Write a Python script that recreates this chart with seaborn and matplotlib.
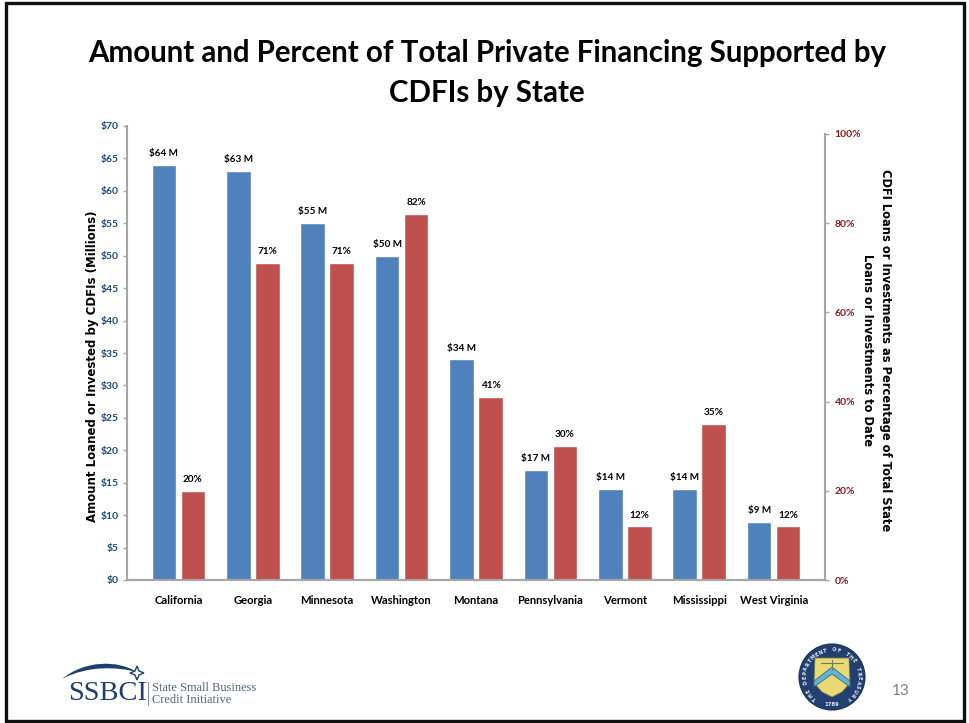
import numpy as np
import pandas as pd
import matplotlib
matplotlib.use("Agg")
import matplotlib.pyplot as plt
from matplotlib.patches import Rectangle, Circle, Polygon, PathPatch
from matplotlib.path import Path
import seaborn as sns

states = ["California", "Georgia", "Minnesota", "Washington", "Montana",
          "Pennsylvania", "Vermont", "Mississippi", "West Virginia"]
amount_millions = [64, 63, 55, 50, 34, 17, 14, 14, 9]
percent_of_total = [20, 71, 71, 82, 41, 30, 12, 35, 12]
amount_ticks = list(range(0, 75, 5))
percent_ticks = list(range(0, 120, 20))

title_text = "Amount and Percent of Total Private Financing Supported by\nCDFIs by State"
left_title = "Amount Loaned or Invested by CDFIs (Millions)"
right_title = "CDFI Loans or Investments as Percentage of Total State\nLoans or Investments to Date"

BLUE = "#4F81BD"
RED = "#C0504D"
NAVY = "#1F497D"
MAROON = "#8C1A1A"
SPINE = "#A6A6A6"
W, H = 969, 723

sns.set_theme(style="white")
plt.rcParams["font.family"] = ["Lato", "DejaVu Sans"]

fig = plt.figure(figsize=(W / 100, H / 100), dpi=100, facecolor="white")

# Slide furniture is laid out in pixel coordinates on a full-figure layer
slide = fig.add_axes([0, 0, 1, 1], zorder=0)
slide.set_xlim(0, W)
slide.set_ylim(H, 0)
slide.axis("off")
slide.add_patch(Rectangle((6.5, 3), 957.5, 717.5, fill=False, ec="#111111", lw=2.4))

slide.text(487, 73, title_text, ha="center", va="center", fontsize=21.25,
           fontweight="bold", color="black", linespacing=1.5)

# Chart axes: money on the left, percentage on the right
ax = fig.add_axes([127 / W, 1 - 580 / H, (825 - 127) / W, (580 - 126) / H], zorder=2)
ax.patch.set_alpha(0)
ax2 = ax.twinx()
ax2.patch.set_alpha(0)

AMOUNT = "Amount"
PERCENT = "Percent"
amount_df = pd.DataFrame({"state": states, "value": amount_millions, "series": AMOUNT})
percent_df = pd.DataFrame({"state": states, "value": percent_of_total, "series": PERCENT})

# Each axis holds one series; forcing the dodge keeps a slot free for the other
bar_opts = dict(x="state", y="value", hue="series", order=states,
                hue_order=[AMOUNT, PERCENT], palette={AMOUNT: BLUE, PERCENT: RED},
                width=0.78, gap=0.155, dodge=True, legend=False, errorbar=None, saturation=1)
sns.barplot(data=amount_df, ax=ax, **bar_opts)
sns.barplot(data=percent_df, ax=ax2, **bar_opts)


def label_bars(axis, labels):
    # Walk the drawn bars left to right and print each one's value above it
    bars = sorted((b for b in axis.patches if b.get_height() > 0), key=lambda b: b.get_x())
    for bar, text in zip(bars, labels):
        axis.annotate(text, (bar.get_x() + bar.get_width() / 2, bar.get_height()),
                      xytext=(0, 5), textcoords="offset points", ha="center", va="bottom",
                      fontsize=7.2, fontweight="bold", color="black")


label_bars(ax, [f"${v} M" for v in amount_millions])
label_bars(ax2, [f"{v}%" for v in percent_of_total])

ax.set_xlim(-0.69, 8.69)
ax.set_ylim(0, 70)
ax2.set_ylim(0, 100 * 454 / 446)

ax.set_yticks(amount_ticks, [f"${v}" for v in amount_ticks])
ax2.set_yticks(percent_ticks, [f"{v}%" for v in percent_ticks])
ax.set_xticks(range(len(states)), states)
ax.set_xlabel("")
ax.set_ylabel("")
ax2.set_xlabel("")
ax2.set_ylabel("")

ax.tick_params(axis="x", length=0, pad=11, labelsize=8.1, labelcolor="black")
ax.tick_params(axis="y", length=3, width=1, color=SPINE, pad=3, labelsize=7.5, labelcolor=NAVY, left=True)
ax2.tick_params(axis="y", length=3, width=1, color=SPINE, pad=4, labelsize=7.5, labelcolor=MAROON, right=True)
for label in ax.get_xticklabels() + ax.get_yticklabels() + ax2.get_yticklabels():
    label.set_fontweight("bold")

for a in (ax, ax2):
    for side in ("top", "left", "right"):
        a.spines[side].set_visible(False)
    a.spines["bottom"].set_visible(True)
    a.spines["bottom"].set_color(SPINE)
    a.spines["bottom"].set_linewidth(1.5)
ax.spines["left"].set_visible(True)
ax.spines["left"].set_color(SPINE)
ax.spines["left"].set_linewidth(1.5)
ax2.spines["right"].set_visible(True)
ax2.spines["right"].set_color(SPINE)
ax2.spines["right"].set_linewidth(1.5)
ax2.spines["right"].set_bounds(0, 100)

slide.text(93, 366, left_title, rotation=90, ha="center", va="center",
           fontsize=8.47, fontweight="bold", family="DejaVu Sans", color="black")
slide.text(876.5, 350, right_title, rotation=270, ha="center", va="center", multialignment="center",
           fontsize=8.3, fontweight="bold", family="DejaVu Sans", color="black", linespacing=1.45)

# Program mark, lower left
LOGO = "#1D3F6E"
slide.text(68, 694, "SSBCI", ha="left", va="center", fontsize=20.5, family="Liberation Serif", color=LOGO)
swoosh = Path([(62, 679), (85, 660), (118, 660), (137, 672), (118, 667), (88, 665), (62, 679)],
              [Path.MOVETO, Path.CURVE4, Path.CURVE4, Path.CURVE4, Path.CURVE4, Path.CURVE4, Path.CURVE4])
slide.add_patch(PathPatch(swoosh, fc=LOGO, ec="none"))
slide.add_patch(Polygon([(137, 666), (139, 671), (144, 673), (139, 675), (137, 680), (135, 675), (130, 673), (135, 671)],
                        fc="white", ec=LOGO, lw=1))
slide.plot([148, 148], [682, 705], color="#8A93A3", lw=0.8)
slide.text(152, 688, "State Small Business", ha="left", va="center", fontsize=8.9,
           family="Liberation Serif", color="#55657F")
slide.text(152, 700, "Credit Initiative", ha="left", va="center", fontsize=8.9,
           family="Liberation Serif", color="#55657F")

# Treasury seal, lower right
cx, cy = 832, 677
slide.add_patch(Circle((cx, cy), 33, fc="#22406F", ec="#16305A", lw=0.8))
slide.add_patch(Polygon([(cx - 17, cy - 19), (cx + 17, cy - 19), (cx + 18, cy + 6), (cx + 10, cy + 15),
                         (cx, cy + 20), (cx - 10, cy + 15), (cx - 18, cy + 6)],
                        fc="#E9D873", ec="#6F7B55", lw=0.6))
slide.add_patch(Polygon([(cx - 18, cy + 4), (cx, cy - 10), (cx + 18, cy + 4), (cx + 18, cy + 10),
                         (cx, cy - 3), (cx - 18, cy + 10)], fc="#62B2D6", ec="#2F5E78", lw=0.5))
slide.plot([cx - 11, cx + 11], [cy - 14, cy - 14], color="#6F7B55", lw=0.8)
slide.plot([cx, cx], [cy - 17, cy - 7], color="#6F7B55", lw=0.8)
seal_words = "THE DEPARTMENT OF THE TREASURY"
angles = np.linspace(-140, 140, len(seal_words))
for ch, ang in zip(seal_words, angles):
    rad = np.deg2rad(ang)
    slide.text(cx + 27 * np.sin(rad), cy - 27 * np.cos(rad), ch, rotation=-ang, ha="center", va="center",
               fontsize=3.6, fontweight="bold", family="DejaVu Sans", color="#E8EAF0")
slide.text(cx, cy + 27, "1789", ha="center", va="center", fontsize=3.8, fontweight="bold",
           family="DejaVu Sans", color="#E8EAF0")

slide.text(900.5, 691, "13", ha="center", va="center", fontsize=11, color="#7F7F7F", family="Lato")

fig.savefig("out.png", dpi=100, facecolor="white")
